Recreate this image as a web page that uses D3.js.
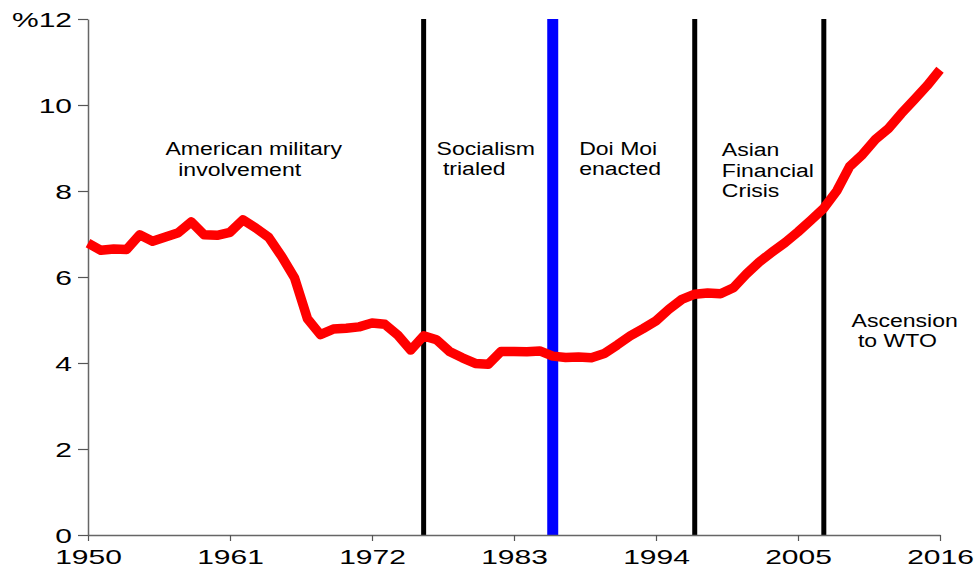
<!DOCTYPE html>
<html>
<head>
<meta charset="utf-8">
<script src="https://cdn.jsdelivr.net/npm/d3@7/dist/d3.min.js"></script>
<style>
  html, body { margin: 0; padding: 0; background: #fff; }
  svg { display: block; }
  text { font-family: "Liberation Sans", Arial, Helvetica, sans-serif; fill: #000; }
</style>
</head>
<body>
<svg id="chart" width="977" height="569"></svg>
<script>
// ---- data ----
const years = d3.range(1950, 2017);
const values = [
  6.79, 6.62, 6.65, 6.64, 6.98, 6.83, 6.93, 7.03, 7.28, 6.98,
  6.97, 7.04, 7.33, 7.14, 6.92, 6.48, 5.98, 5.03, 4.66, 4.79,
  4.81, 4.84, 4.93, 4.90, 4.65, 4.30, 4.63, 4.54, 4.27, 4.12,
  3.99, 3.97, 4.27, 4.27, 4.26, 4.28, 4.16, 4.13, 4.14, 4.12,
  4.22, 4.42, 4.63, 4.80, 4.98, 5.25, 5.48, 5.60, 5.63, 5.61,
  5.75, 6.07, 6.35, 6.58, 6.80, 7.05, 7.32, 7.60, 8.00, 8.57,
  8.85, 9.20, 9.45, 9.80, 10.12, 10.45, 10.82
];
const xTickValues = [1950, 1961, 1972, 1983, 1994, 2005, 2016];
const yTickValues = [0, 2, 4, 6, 8, 10, 12];
const yTickLabels = ["0", "2", "4", "6", "8", "10", "%12"];
const eventYears = [1976, 1986, 1997, 2007];
const highlightEvent = 1986;
const annotationLines = [
  ["American military", "  involvement"],
  ["Socialism", " trialed"],
  ["Doi Moi", "enacted"],
  ["Asian", "Financial", "Crisis"],
  ["Ascension", " to WTO"]
];
// anchor of each annotation (year, value of first baseline)
const annotationYears = [1956.0, 1977.0, 1988.05, 1999.1, 2009.15];
const annotationValues = [8.83, 8.84, 8.84, 8.81, 4.84];

// ---- layout ----
const svg = d3.select("#chart");
const x = d3.scaleLinear().domain([1950, 2016]).range([88, 940]);
const y = d3.scaleLinear().domain([0, 12]).range([535, 19]);
const tickStretch = 1.5;
const annStretch = 1.28;

// event lines
svg.append("g").selectAll("line").data(eventYears).join("line")
  .attr("x1", d => x(d)).attr("x2", d => x(d))
  .attr("y1", y(12)).attr("y2", y(0))
  .attr("stroke", d => d === highlightEvent ? "#0000ff" : "#000")
  .attr("stroke-width", d => d === highlightEvent ? 11 : 5);

// axes
const xAxis = svg.append("g").attr("transform", `translate(0,${y(0)})`)
  .call(d3.axisBottom(x).tickValues(xTickValues).tickFormat(d3.format("d")).tickSizeInner(6).tickSizeOuter(0));
const yAxis = svg.append("g").attr("transform", `translate(${x(1950)},0)`)
  .call(d3.axisLeft(y).tickValues(yTickValues).tickFormat((d, i) => yTickLabels[i]).tickSizeInner(10).tickSizeOuter(0));

[xAxis, yAxis].forEach(g => {
  g.select(".domain").attr("stroke", "#666").attr("stroke-width", 1.5);
  g.selectAll(".tick line").attr("stroke", "#555").attr("stroke-width", 1.2);
  g.selectAll("text").attr("font-size", 20).attr("fill", "#000")
    .attr("font-family", '"Liberation Sans", Arial, sans-serif');
});
xAxis.selectAll("text").attr("dy", 0).attr("y", 29)
  .attr("transform", `scale(${tickStretch},1)`);
yAxis.selectAll("text").attr("x", -16 / tickStretch).attr("dy", "0.36em")
  .attr("transform", `scale(${tickStretch},1)`);

// series line
const line = d3.line().x((d, i) => x(years[i])).y(d => y(d));
svg.append("path").datum(values)
  .attr("d", line)
  .attr("fill", "none")
  .attr("stroke", "#ff0000")
  .attr("stroke-width", 9.5)
  .attr("stroke-linejoin", "round");

// annotations
const ann = svg.append("g");
annotationLines.forEach((lines, k) => {
  const t = ann.append("text")
    .attr("transform", `translate(${x(annotationYears[k])},${y(annotationValues[k])}) scale(${annStretch},1)`)
    .attr("font-size", 18)
    .style("white-space", "pre");
  lines.forEach((s, j) => {
    t.append("tspan").attr("x", 0).attr("y", j * 20.5).text(s);
  });
});
</script>
</body>
</html>
